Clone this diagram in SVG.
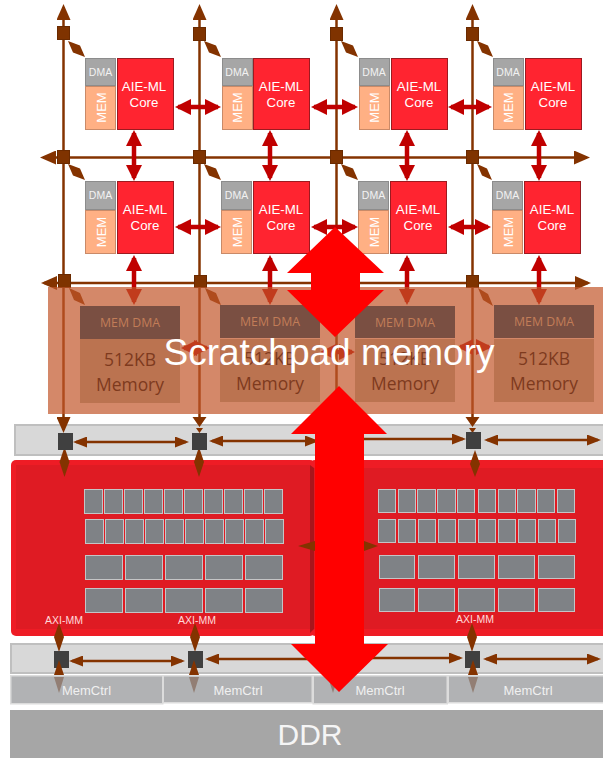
<svg xmlns="http://www.w3.org/2000/svg" width="603" height="758" viewBox="0 0 603 758">
<style>
text{font-family:"Liberation Sans",Arial,sans-serif;text-anchor:middle}
.band{fill:#d8d8d8;stroke:#bfbfbf;stroke-width:2}
.blk{fill:#ee1c25}
.blkin{fill:#df1b23}
.bev{fill:#a8161c}
.g{fill:#7f8286;stroke:#c4c5c6;stroke-width:1}
.mc{fill:#97989b;fill-opacity:.75;stroke:#dcdcdc;stroke-width:1.5}
.mct{fill:#f0f0f0;font-size:13px}
.dma{fill:#a6a6a6;stroke:#8c8c8c;stroke-width:1}
.dmat{fill:#f2f2f2;font-size:10.5px}
.mem{fill:#ffb084;stroke:#c98a68;stroke-width:1}
.memt{fill:#fff;font-size:13px}
.core{fill:#ff2430;stroke:#9c1a20;stroke-width:1}
.coret{fill:#fff;font-size:13.3px}
.sw{fill:#7f3300;stroke:#6a2a00;stroke-width:1}
.sq{fill:#404040}
.br{stroke:#843300;stroke-width:2.5;fill:none}
.vb{marker-start:url(#hb);marker-end:url(#hb)}
.sb{stroke:#843300;stroke-width:2.5;fill:none;marker-start:url(#hs);marker-end:url(#hs)}
.se{stroke:#843300;stroke-width:2.5;fill:none;marker-end:url(#hs)}
.ss{stroke:#843300;stroke-width:2.5;fill:none;marker-start:url(#hs)}
.rd{stroke:#c00000;stroke-width:4.5;fill:none;marker-start:url(#hr);marker-end:url(#hr)}
.bf{fill:#843300}
.tt{fill:#7a4f42}
.tm{fill:#bb7350}
.tdma{fill:#c27d58;font-family:"Open Sans","Noto Sans",sans-serif;font-size:12px}
.tmem{fill:#7e3a1e;font-family:"Open Sans","Noto Sans",sans-serif;font-size:18px}
.axi{fill:#ffd9d9;font-size:10.5px}
.big{fill:#ff0000}
</style>
<defs>
<marker id="hb" markerUnits="userSpaceOnUse" markerWidth="16" markerHeight="14" refX="13" refY="7" orient="auto-start-reverse"><path d="M0 0L16 7L0 14Z" fill="#843300"/></marker>
<marker id="hs" markerUnits="userSpaceOnUse" markerWidth="14" markerHeight="11" refX="11" refY="5.5" orient="auto-start-reverse"><path d="M0 0L14 5.500L0 11Z" fill="#843300"/></marker>
<marker id="hr" markerUnits="userSpaceOnUse" markerWidth="16" markerHeight="16" refX="13" refY="8" orient="auto-start-reverse"><path d="M0 0L16 8L0 16Z" fill="#c00000"/></marker>
</defs>

<g id="noc-band"><rect class="band" x="15" y="425" width="600" height="30"/></g>
<g id="ddrmc-band"><rect class="band" x="11" y="644" width="604" height="29"/></g>

<g id="nmu-left">
<rect class="blk" x="11" y="460" width="304" height="176" rx="5"/>
<rect class="blkin" x="16" y="465" width="294" height="164"/>
<rect class="g" x="84.500" y="489.500" width="18" height="24"/><rect class="g" x="104.500" y="489.500" width="18" height="24"/><rect class="g" x="124.500" y="489.500" width="18" height="24"/><rect class="g" x="144.500" y="489.500" width="18" height="24"/><rect class="g" x="164.500" y="489.500" width="18" height="24"/><rect class="g" x="184.500" y="489.500" width="18" height="24"/><rect class="g" x="204.500" y="489.500" width="18" height="24"/><rect class="g" x="224.500" y="489.500" width="18" height="24"/><rect class="g" x="244.500" y="489.500" width="18" height="24"/><rect class="g" x="264.500" y="489.500" width="18" height="24"/>
<rect class="g" x="85.500" y="519.500" width="18" height="24"/><rect class="g" x="105.500" y="519.500" width="18" height="24"/><rect class="g" x="125.500" y="519.500" width="18" height="24"/><rect class="g" x="145.500" y="519.500" width="18" height="24"/><rect class="g" x="165.500" y="519.500" width="18" height="24"/><rect class="g" x="185.500" y="519.500" width="18" height="24"/><rect class="g" x="205.500" y="519.500" width="18" height="24"/><rect class="g" x="225.500" y="519.500" width="18" height="24"/><rect class="g" x="245.500" y="519.500" width="18" height="24"/><rect class="g" x="265.500" y="519.500" width="18" height="24"/>
<rect class="g" x="85.500" y="555.500" width="37" height="24"/><rect class="g" x="125.500" y="555.500" width="37" height="24"/><rect class="g" x="165.500" y="555.500" width="37" height="24"/><rect class="g" x="205.500" y="555.500" width="37" height="24"/><rect class="g" x="245.500" y="555.500" width="37" height="24"/>
<rect class="g" x="85.500" y="588.500" width="37" height="24"/><rect class="g" x="125.500" y="588.500" width="37" height="24"/><rect class="g" x="165.500" y="588.500" width="37" height="24"/><rect class="g" x="205.500" y="588.500" width="37" height="24"/><rect class="g" x="245.500" y="588.500" width="37" height="24"/>
<text class="axi" x="64" y="624">AXI-MM</text>
<text class="axi" x="197" y="624">AXI-MM</text>
</g>

<g id="nmu-right">
<rect class="blk" x="310" y="460" width="310" height="176" rx="5"/>
<rect class="blkin" x="314" y="468" width="300" height="161"/>
<path class="bev" d="M310 465L314 468V629L310 633Z"/>
<rect class="g" x="378.500" y="489.500" width="17" height="23"/><rect class="g" x="398.500" y="489.500" width="17" height="23"/><rect class="g" x="417.500" y="489.500" width="18" height="23"/><rect class="g" x="437.500" y="489.500" width="18" height="23"/><rect class="g" x="457.500" y="489.500" width="17" height="23"/><rect class="g" x="478.500" y="489.500" width="17" height="23"/><rect class="g" x="498.500" y="489.500" width="17" height="23"/><rect class="g" x="517.500" y="489.500" width="18" height="23"/><rect class="g" x="537.500" y="489.500" width="17" height="23"/><rect class="g" x="557.500" y="489.500" width="17" height="23"/>
<rect class="g" x="378.500" y="519.500" width="17" height="23"/><rect class="g" x="398.500" y="519.500" width="17" height="23"/><rect class="g" x="418.500" y="519.500" width="17" height="23"/><rect class="g" x="438.500" y="519.500" width="17" height="23"/><rect class="g" x="458.500" y="519.500" width="17" height="23"/><rect class="g" x="478.500" y="519.500" width="17" height="23"/><rect class="g" x="498.500" y="519.500" width="17" height="23"/><rect class="g" x="518.500" y="519.500" width="17" height="23"/><rect class="g" x="538.500" y="519.500" width="17" height="23"/><rect class="g" x="558.500" y="519.500" width="17" height="23"/>
<rect class="g" x="379.500" y="555.500" width="35" height="23"/><rect class="g" x="418.500" y="555.500" width="36" height="23"/><rect class="g" x="458.500" y="555.500" width="36" height="23"/><rect class="g" x="498.500" y="555.500" width="36" height="23"/><rect class="g" x="538.500" y="555.500" width="36" height="23"/>
<rect class="g" x="379.500" y="588.500" width="35" height="23"/><rect class="g" x="418.500" y="588.500" width="36" height="23"/><rect class="g" x="458.500" y="588.500" width="36" height="23"/><rect class="g" x="498.500" y="588.500" width="36" height="23"/><rect class="g" x="538.500" y="588.500" width="36" height="23"/>
<text class="axi" x="475" y="623">AXI-MM</text>
</g>

<g id="connectors">
<path class="br vb" d="M63.500 7V430"/>
<path class="br" style="marker-start:url(#hb)" d="M199.500 7V422"/>
<path class="br" style="marker-start:url(#hb)" d="M336.500 7V400"/>
<path class="br" style="marker-start:url(#hb)" d="M472.500 7V422"/>
<path class="br vb" d="M43 157.500H587"/>
<path class="br vb" d="M44 283H588"/>
<path class="bf" d="M192.500 417H206.500L199.500 427ZM196 428H203L199.500 433Z"/>
<path class="bf" d="M465.500 417H479.500L472.500 427ZM469 428H476L472.500 433Z"/>

<path class="bf" d="M68 41l5 11.600l12 4.400l-5-11.600zM204 41l5 11.600l12 4.400l-5-11.600zM341 41l5 11.600l12 4.400l-5-11.600zM477 41l5 11.600l11 4.400l-5-11.600z"/>
<path class="bf" d="M68 164l5 11.600l12 4.400l-5-11.600zM204 164l5 11.600l12 4.400l-5-11.600zM341 164l5 11.600l12 4.400l-5-11.600zM477 164l5 11.600l10 4.400l-5-11.600z"/>
<path class="bf" d="M69 288l5 12l11 5l-5-12zM205 288l5 12l11 5l-5-12zM341 288l4 12l10 5l-4-12zM478 288l5 12l10 6l-5-12z"/>

<path class="rd" d="M178 107H218"/><path class="rd" d="M314 107H355"/><path class="rd" d="M451 107H489"/>
<path class="rd" d="M178 227H218"/><path class="rd" d="M314 227H355"/><path class="rd" d="M451 227H488"/>
<path class="rd" d="M134 133V178"/><path class="rd" d="M270 133V178"/><path class="rd" d="M407 133V178"/><path class="rd" d="M539 133V178"/>
<path class="rd" d="M134 258V302"/><path class="rd" d="M270 258V302"/><path class="rd" d="M407 258V302"/><path class="rd" d="M539 258V302"/>
<path class="rd" d="M184 348H207"/><path class="rd" d="M323 352H352"/><path class="rd" d="M460 347H489"/>

<path class="sb" d="M76 442H186"/>
<path class="sb" d="M212 441H316"/>
<path class="se" d="M340 439H463"/>
<path class="sb" d="M487 440H598"/>
<path class="sb" d="M72 661H182"/>
<path class="ss" d="M208 659H330"/>
<path class="se" d="M340 658H460"/>
<path class="sb" d="M486 659H598"/>

<path class="bf" d="M64.500 447L69.500 462L64.500 477L59.500 462Z"/>
<path class="bf" d="M199 447L204 462L199 477L194 462Z"/>
<path class="bf" d="M475 450L480 464L475 477L470 464Z"/>
<path class="bf" d="M298 546L315 541V551Z"/>
<path class="bf" d="M378 546L364 541V551Z"/>

<path class="bf" d="M59 623L64 637L59 652L54 637Z"/>
<path class="bf" d="M195 623L200 637L195 652L190 637Z"/>
<path class="bf" d="M472 623L477 637L472 652L467 637Z"/>
<path class="bf" d="M54 677H64L59 693Z"/>
<path class="bf" d="M189 677H199L194 693Z"/>
<path class="bf" d="M468 677H478L473 693Z"/>
<path class="bf" d="M328 677H338L333 693Z"/>
</g>

<g id="memctrl-1"><rect class="mc" x="10.750" y="675.750" width="152" height="28"/><text class="mct" x="86.500" y="695">MemCtrl</text></g>
<g id="memctrl-2"><rect class="mc" x="163.250" y="675.750" width="149" height="27"/><text class="mct" x="238" y="695">MemCtrl</text></g>
<g id="memctrl-3"><rect class="mc" x="313.250" y="675.750" width="134" height="28"/><text class="mct" x="380" y="695">MemCtrl</text></g>
<g id="memctrl-4"><rect class="mc" x="448.250" y="675.750" width="160" height="27"/><text class="mct" x="528" y="695">MemCtrl</text></g>
<g id="ddr"><rect x="10" y="710" width="593" height="48" fill="#a6a6a6"/><text x="310" y="745" font-size="30" fill="#f5f5f5">DDR</text></g>

<g id="switches">
<rect class="sw" x="57.500" y="26.500" width="12" height="13"/><rect class="sw" x="193.500" y="27.500" width="12" height="13"/><rect class="sw" x="330.500" y="27.500" width="12" height="13"/><rect class="sw" x="466.500" y="27.500" width="12" height="13"/>
<rect class="sw" x="57.500" y="150.500" width="12" height="13"/><rect class="sw" x="193.500" y="150.500" width="12" height="13"/><rect class="sw" x="330.500" y="150.500" width="12" height="13"/><rect class="sw" x="466.500" y="150.500" width="12" height="13"/>
<rect class="sw" x="58.500" y="274.500" width="12" height="13"/><rect class="sw" x="194.500" y="275.500" width="12" height="12"/><rect class="sw" x="330.500" y="275.500" width="12" height="12"/><rect class="sw" x="466.500" y="275.500" width="12" height="12"/>
</g>

<g id="aie-1-1"><rect class="dma" x="85.500" y="58.500" width="30" height="27"/><text class="dmat" x="100.500" y="76">DMA</text><rect class="mem" x="85.500" y="86.500" width="30" height="43"/><text class="memt" transform="translate(105.500 107.500) rotate(-90)">MEM</text><rect class="core" x="117.500" y="58.500" width="56" height="71"/><text class="coret" x="144" y="91">AIE-ML</text><text class="coret" x="144" y="107">Core</text></g>
<g id="aie-1-2"><rect class="dma" x="222.500" y="58.500" width="30" height="27"/><text class="dmat" x="237" y="76">DMA</text><rect class="mem" x="222.500" y="86.500" width="30" height="43"/><text class="memt" transform="translate(242 107.500) rotate(-90)">MEM</text><rect class="core" x="253.500" y="58.500" width="56" height="71"/><text class="coret" x="281" y="91">AIE-ML</text><text class="coret" x="281" y="107">Core</text></g>
<g id="aie-1-3"><rect class="dma" x="359.500" y="58.500" width="30" height="27"/><text class="dmat" x="374" y="76">DMA</text><rect class="mem" x="359.500" y="86.500" width="30" height="43"/><text class="memt" transform="translate(379 107.500) rotate(-90)">MEM</text><rect class="core" x="391.500" y="58.500" width="56" height="71"/><text class="coret" x="419" y="91">AIE-ML</text><text class="coret" x="419" y="107">Core</text></g>
<g id="aie-1-4"><rect class="dma" x="493.500" y="58.500" width="30" height="27"/><text class="dmat" x="508" y="76">DMA</text><rect class="mem" x="493.500" y="86.500" width="30" height="43"/><text class="memt" transform="translate(513 107.500) rotate(-90)">MEM</text><rect class="core" x="525.500" y="58.500" width="56" height="71"/><text class="coret" x="553" y="91">AIE-ML</text><text class="coret" x="553" y="107">Core</text></g>
<g id="aie-2-1"><rect class="dma" x="85.500" y="181.500" width="30" height="28"/><text class="dmat" x="100.500" y="199">DMA</text><rect class="mem" x="85.500" y="210.500" width="30" height="43"/><text class="memt" transform="translate(105.500 232) rotate(-90)">MEM</text><rect class="core" x="117.500" y="181.500" width="56" height="72"/><text class="coret" x="145" y="214">AIE-ML</text><text class="coret" x="145" y="230">Core</text></g>
<g id="aie-2-2"><rect class="dma" x="221.500" y="181.500" width="30" height="28"/><text class="dmat" x="236.500" y="199">DMA</text><rect class="mem" x="221.500" y="210.500" width="30" height="43"/><text class="memt" transform="translate(241.500 232) rotate(-90)">MEM</text><rect class="core" x="253.500" y="181.500" width="56" height="72"/><text class="coret" x="281" y="214">AIE-ML</text><text class="coret" x="281" y="230">Core</text></g>
<g id="aie-2-3"><rect class="dma" x="358.500" y="181.500" width="30" height="28"/><text class="dmat" x="373.500" y="199">DMA</text><rect class="mem" x="358.500" y="210.500" width="30" height="43"/><text class="memt" transform="translate(378.500 232) rotate(-90)">MEM</text><rect class="core" x="390.500" y="181.500" width="56" height="72"/><text class="coret" x="418" y="214">AIE-ML</text><text class="coret" x="418" y="230">Core</text></g>
<g id="aie-2-4"><rect class="dma" x="492.500" y="181.500" width="30" height="28"/><text class="dmat" x="507.500" y="199">DMA</text><rect class="mem" x="492.500" y="210.500" width="30" height="43"/><text class="memt" transform="translate(512.500 232) rotate(-90)">MEM</text><rect class="core" x="524.500" y="181.500" width="56" height="72"/><text class="coret" x="552" y="214">AIE-ML</text><text class="coret" x="552" y="230">Core</text></g>

<g id="scratchpad-panel"><rect x="48" y="287" width="555" height="127" fill="#c2552a" fill-opacity=".7"/></g>
<g id="mem-tile-1"><rect class="tt" x="80" y="306" width="100" height="33"/><rect class="tm" x="80" y="339" width="100" height="64"/><text class="tdma" x="130" y="327" textLength="60" lengthAdjust="spacingAndGlyphs">MEM DMA</text><text class="tmem" x="130" y="366" textLength="52" lengthAdjust="spacingAndGlyphs">512KB</text><text class="tmem" x="130" y="391" textLength="68" lengthAdjust="spacingAndGlyphs">Memory</text></g>
<g id="mem-tile-2"><rect class="tt" x="220" y="305" width="100" height="33"/><rect class="tm" x="220" y="339" width="100" height="63"/><text class="tdma" x="270" y="326" textLength="60" lengthAdjust="spacingAndGlyphs">MEM DMA</text><text class="tmem" x="270" y="365" textLength="52" lengthAdjust="spacingAndGlyphs">512KB</text><text class="tmem" x="270" y="390" textLength="68" lengthAdjust="spacingAndGlyphs">Memory</text></g>
<g id="mem-tile-3"><rect class="tt" x="355" y="306" width="100" height="32"/><rect class="tm" x="355" y="339" width="100" height="63"/><text class="tdma" x="405" y="327" textLength="60" lengthAdjust="spacingAndGlyphs">MEM DMA</text><text class="tmem" x="405" y="365" textLength="52" lengthAdjust="spacingAndGlyphs">512KB</text><text class="tmem" x="405" y="390" textLength="68" lengthAdjust="spacingAndGlyphs">Memory</text></g>
<g id="mem-tile-4"><rect class="tt" x="494" y="305" width="100" height="33"/><rect class="tm" x="494" y="339" width="100" height="63"/><text class="tdma" x="544" y="326" textLength="60" lengthAdjust="spacingAndGlyphs">MEM DMA</text><text class="tmem" x="544" y="365" textLength="52" lengthAdjust="spacingAndGlyphs">512KB</text><text class="tmem" x="544" y="390" textLength="68" lengthAdjust="spacingAndGlyphs">Memory</text></g>

<g id="noc-squares">
<rect class="sq" x="58" y="433" width="15" height="17"/><rect class="sq" x="192" y="433" width="15" height="17"/><rect class="sq" x="466" y="432" width="15" height="17"/>
<rect class="sq" x="54" y="651" width="15" height="17"/><rect class="sq" x="188" y="651" width="15" height="17"/><rect class="sq" x="465" y="651" width="15" height="17"/>
</g>
<g id="bottom-ups">
<path class="bf" d="M59 660L64 675H54Z"/><path class="bf" d="M194 660L199 675H189Z"/><path class="bf" d="M473 660L478 675H468Z"/>
</g>

<g id="big-arrows">
<path class="big" d="M335 227L384 273H360V290H384L335 337L287 290H311V273H287Z"/>
<path class="big" d="M339 386L387 434H364V644H388L339 692L291 644H315V434H291Z"/>
</g>
<g id="scratchpad-label"><text x="329" y="365" font-size="37" fill="#fff">Scratchpad memory</text></g>
</svg>
